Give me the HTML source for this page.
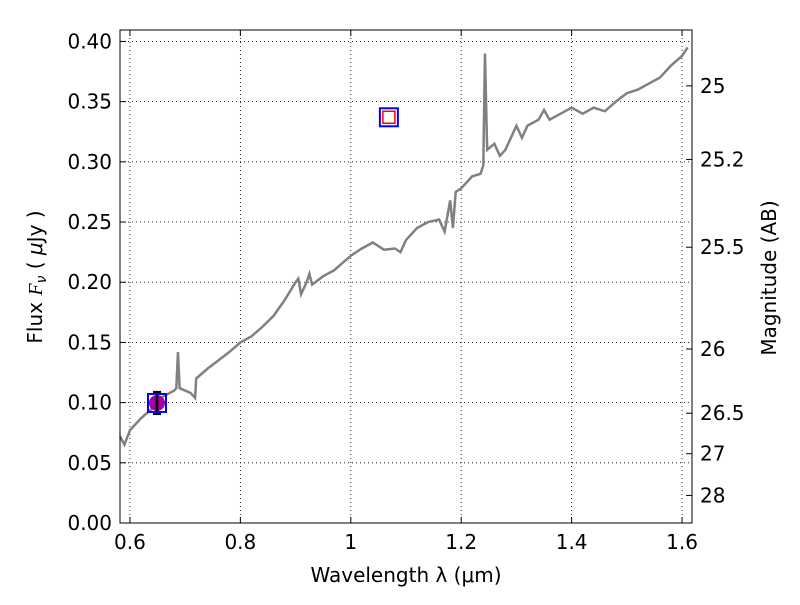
<!DOCTYPE html>
<html><head><meta charset="utf-8"><style>
body{margin:0;background:#fff}
svg text{font-family:"DejaVu Sans","Liberation Sans",sans-serif;fill:#000}
</style></head><body>
<svg id="c" width="800" height="600" xmlns="http://www.w3.org/2000/svg"></svg>
<script>
const wave=[0.582,0.59,0.60,0.62,0.64,0.66,0.68,0.684,0.687,0.69,0.70,0.71,0.718,0.72,0.74,0.76,0.78,0.80,0.82,0.84,0.86,0.88,0.90,0.905,0.91,0.92,0.925,0.93,0.95,0.97,0.99,1.0,1.02,1.04,1.06,1.08,1.09,1.10,1.12,1.14,1.16,1.17,1.18,1.185,1.19,1.20,1.22,1.235,1.24,1.243,1.247,1.26,1.27,1.28,1.30,1.31,1.32,1.34,1.35,1.36,1.38,1.40,1.42,1.44,1.46,1.48,1.50,1.52,1.54,1.56,1.58,1.60,1.61];
const flux=[0.072,0.065,0.077,0.087,0.095,0.105,0.110,0.112,0.142,0.112,0.110,0.108,0.104,0.120,0.128,0.135,0.142,0.150,0.155,0.163,0.172,0.185,0.200,0.203,0.190,0.200,0.207,0.198,0.205,0.210,0.218,0.222,0.228,0.233,0.227,0.228,0.225,0.235,0.245,0.250,0.252,0.242,0.268,0.245,0.275,0.278,0.288,0.290,0.297,0.390,0.310,0.315,0.305,0.310,0.330,0.320,0.330,0.335,0.343,0.335,0.340,0.345,0.340,0.345,0.342,0.350,0.357,0.360,0.365,0.370,0.380,0.388,0.395];
const photWave=[0.649,1.069];
const photFlux=[0.0997,0.337];
const photErr=[0.009,0];
const xTicks=[0.6,0.8,1,1.2,1.4,1.6];
const xTickLabels=["0.6","0.8","1","1.2","1.4","1.6"];
const yTicks=[0,0.05,0.1,0.15,0.2,0.25,0.3,0.35,0.4];
const yTickLabels=["0.00","0.05","0.10","0.15","0.20","0.25","0.30","0.35","0.40"];
const magTicks=[25,25.2,25.5,26,26.5,27,28];
const magTickLabels=["25","25.2","25.5","26","26.5","27","28"];

const L=120,R=692,T=30,B=523,x0=0.582,x1=1.618,y0=0,y1=0.4095;
const X=v=>L+(v-x0)/(x1-x0)*(R-L);
const Y=v=>B-(v-y0)/(y1-y0)*(B-T);
const NS="http://www.w3.org/2000/svg";
const svg=document.getElementById('c');
function el(t,a,p){const e=document.createElementNS(NS,t);for(const k in a)e.setAttribute(k,a[k]);(p||svg).appendChild(e);return e;}
function txt(x,y,s,anchor,size,name){const e=el('text',{x:x,y:y,'text-anchor':anchor,'font-size':size});e.textContent=s;

return e;}
xTicks.forEach((v,i)=>{
 const g=el('line',{x1:X(v),x2:X(v),y1:T,y2:B,stroke:'#000','stroke-dasharray':'1,3','stroke-width':0.8});
 
 
 const t=el('line',{x1:X(v),x2:X(v),y1:B,y2:B-6,stroke:'#000'});
 
 
 el('line',{x1:X(v),x2:X(v),y1:T,y2:T+6,stroke:'#000'});
 txt(X(v),B+26,xTickLabels[i],'middle',20,'x-tick-label');
});
yTicks.forEach((v,i)=>{
 const g=el('line',{x1:L,x2:R,y1:Y(v),y2:Y(v),stroke:'#000','stroke-dasharray':'1,3','stroke-width':0.8});
 
 
 const t=el('line',{x1:L,x2:L+6,y1:Y(v),y2:Y(v),stroke:'#000'});
 
 
 txt(L-8,Y(v)+7,yTickLabels[i],'end',20,'y-tick-label');
});
magTicks.forEach((m,i)=>{
 const f=Math.pow(10,(23.9-m)/2.5);
 const t=el('line',{x1:R,x2:R-6,y1:Y(f),y2:Y(f),stroke:'#000'});
 
 
 txt(R+8,Y(f)+7,magTickLabels[i],'start',20,'mag-tick-label');
});
const pl=el('polyline',{points:wave.map((w,i)=>X(w)+','+Y(flux[i])).join(' '),fill:'none',stroke:'#808080','stroke-width':2.5});


photWave.forEach((w,i)=>{
 const cx=X(w),cy=Y(photFlux[i]);
 if(photErr[i]>0){
  const c=el('circle',{cx:cx,cy:cy,r:8,fill:'#a000a0'});
  
  
  const e1=Y(photFlux[i]+photErr[i]),e2=Y(photFlux[i]-photErr[i]);
  el('line',{x1:cx,x2:cx,y1:e1,y2:e2,stroke:'#000','stroke-width':2.5});
  el('line',{x1:cx-4,x2:cx+4,y1:e1,y2:e1,stroke:'#000','stroke-width':2.5});
  el('line',{x1:cx-4,x2:cx+4,y1:e2,y2:e2,stroke:'#000','stroke-width':2.5});
 } else {
  const s=el('rect',{x:cx-6,y:cy-6,width:12,height:12,fill:'none',stroke:'#f00','stroke-width':1.5});
  
  
 }
 const b=el('rect',{x:cx-9,y:cy-9,width:18,height:18,fill:'none',stroke:'#00f','stroke-width':2});
 
 
});
const fr=el('rect',{x:L,y:T,width:R-L,height:B-T,fill:'none',stroke:'#000','stroke-width':1});


txt((L+R)/2,582,'Wavelength  λ (μm)','middle',20,'x-axis-title');
const yl=txt(0,0,'Flux  Fν  ( μJy )','middle',20,'y-axis-title');
yl.setAttribute('transform','translate(42,277) rotate(-90)');
yl.innerHTML='Flux  <tspan font-style="italic" font-family="Liberation Serif">F</tspan><tspan font-style="italic" font-size="14" dy="4">ν</tspan><tspan dy="-4">  ( </tspan><tspan font-style="italic">μ</tspan>Jy )';
const ml=txt(0,0,'Magnitude (AB)','middle',20,'right-axis-title');
ml.setAttribute('transform','translate(776,278) rotate(-90)');
</script>
</body></html>
